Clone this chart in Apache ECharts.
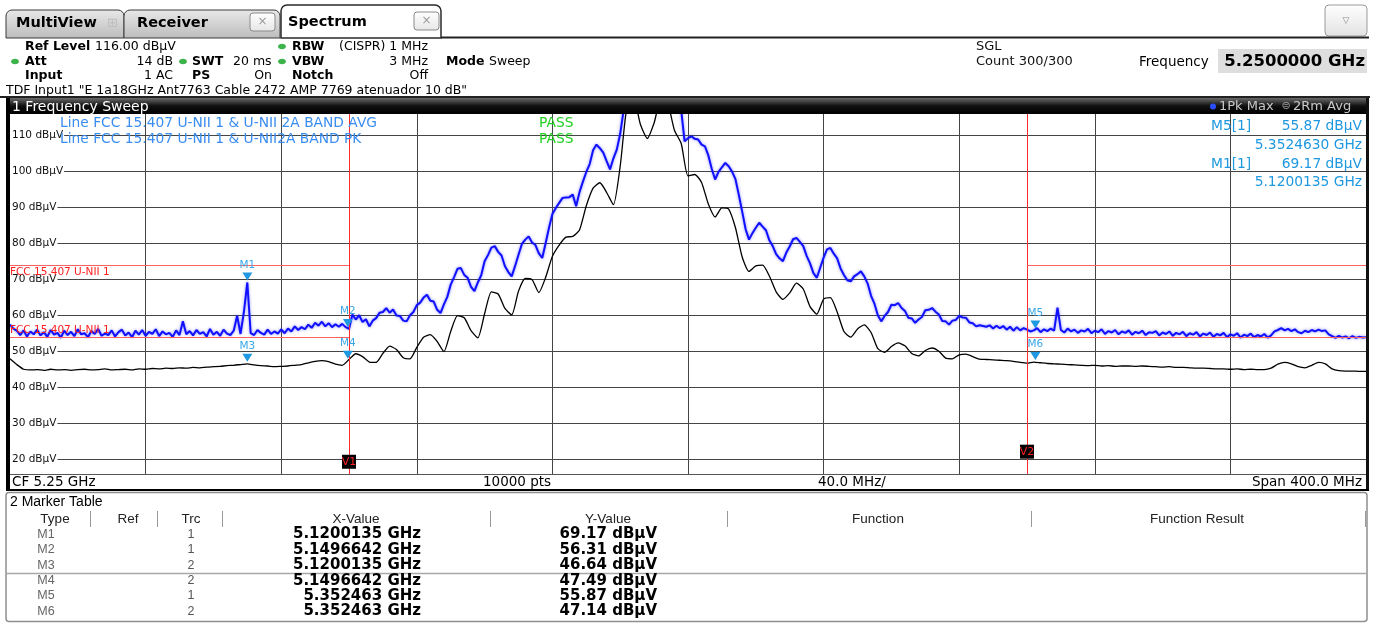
<!DOCTYPE html>
<html lang="en">
<head>
<meta charset="UTF-8">
<title>Spectrum</title>
<script src="https://cdn.jsdelivr.net/npm/echarts@6/dist/echarts.min.js"></script>
<style>
  html, body { margin: 0; padding: 0; background: #fff; }
  #main { width: 1381px; height: 624px; }
</style>
</head>
<body>
<div id="main"></div>
<script>
// ---- data (dBuV) ----
const startMHz = 5050;
const pkStepMHz = 1;
const avgStepMHz = 2;

// trace 1: 1Pk Max, one value per MHz from 5050 MHz
const pkMax = [
  57.5, 56.4, 55.8, 54.6, 55.9, 54.2, 55.6, 54.8, 56.1, 54.5,
  55.4, 54.1, 56.0, 54.7, 55.2, 53.9, 55.8, 54.6, 55.5, 54.3,
  56.2, 54.8, 55.1, 54.0, 55.7, 54.9, 56.3, 54.4, 55.0, 54.6,
  55.9, 54.2, 55.4, 56.1, 54.5, 55.3, 54.0, 55.8, 54.7, 56.0,
  54.4, 55.5, 54.9, 56.2, 54.3, 55.6, 54.8, 55.2, 54.1, 55.9,
  54.6, 58.4, 54.8, 55.7, 54.5, 56.0, 54.9, 55.4, 54.2, 56.3,
  54.7, 55.5, 54.4, 56.1, 55.0, 54.6, 55.8, 60.0, 54.9, 61.0,
  69.2, 55.1, 54.6, 56.0, 55.2, 54.7, 56.1, 54.9, 55.6, 55.0,
  56.2, 55.1, 56.4, 55.6, 57.0, 56.0, 56.8, 56.2, 57.5, 56.6,
  58.0, 57.2, 58.3, 57.0, 57.9, 56.8, 57.6, 56.9, 57.7, 56.8,
  56.3, 60.3, 58.9, 60.1, 58.2, 59.0, 57.0, 58.6, 59.3, 60.8,
  61.0, 62.1, 60.8, 61.7, 60.0, 59.9, 58.6, 58.4, 60.1, 61.0,
  62.9, 63.6, 65.0, 65.8, 64.1, 63.9, 61.6, 60.7, 63.1, 65.2,
  68.6, 70.7, 73.0, 73.2, 71.3, 70.5, 68.0, 66.8, 69.2, 71.2,
  75.1, 76.8, 78.9, 79.3, 77.7, 76.7, 73.7, 72.1, 70.9, 73.8,
  76.9, 79.9, 81.1, 82.0, 80.3, 79.6, 77.3, 76.0, 80.1, 84.4,
  88.2, 89.9, 91.3, 92.7, 92.8, 92.9, 93.6, 90.4, 94.3, 97.2,
  99.9, 102.1, 105.9, 107.5, 106.5, 105.3, 102.9, 100.6, 103.7, 106.1,
  110.5, 117, 119, 120, 121, 121, 120, 120, 121, 122,
  122, 121, 121, 120, 120, 119, 119, 118, 117, 108.4,
  109.3, 109.8, 109.1, 108.9, 107.5, 107.0, 104.5, 100.8, 97.8, 99.9,
  101.2, 102.4, 101.5, 100.0, 97.9, 93.5, 88.8, 84.0, 81.1, 82.9,
  84.4, 85.8, 84.7, 83.7, 80.9, 79.3, 77.1, 75.9, 75.1, 77.5,
  79.2, 81.2, 81.6, 80.5, 79.3, 76.6, 74.5, 71.8, 70.5, 73.3,
  76.1, 78.4, 78.8, 77.2, 75.9, 73.1, 71.3, 69.8, 69.5, 70.9,
  71.5, 72.3, 70.9, 68.9, 65.5, 63.3, 60.1, 58.4, 59.9, 61.0,
  63.0, 62.9, 63.5, 62.1, 61.3, 59.4, 59.2, 58.0, 58.9, 59.6,
  61.5, 61.6, 62.1, 61.1, 60.3, 58.5, 58.4, 57.5, 58.6, 58.8,
  59.9, 59.5, 59.4, 58.1, 57.9, 57.0, 57.3, 57.1, 56.9, 57.3,
  56.4, 57.2, 56.5, 57.1, 56.1, 56.9, 55.8, 56.8, 55.9, 56.5,
  56.1, 55.6, 55.9, 56.5, 55.4, 56.2, 55.7, 56.4, 55.8, 62.2,
  56.0, 55.3, 56.4, 55.6, 56.1, 55.2, 55.9, 55.6, 56.3, 55.1,
  55.8, 55.4, 56.2, 54.9, 55.7, 55.3, 56.0, 54.8, 55.6, 55.2,
  55.9, 54.7, 55.5, 55.1, 55.8, 54.6, 55.4, 55.2, 55.7, 54.5,
  55.3, 54.9, 55.6, 54.4, 55.2, 54.8, 55.5, 54.3, 55.1, 54.7,
  55.4, 54.2, 55.0, 54.6, 55.3, 54.1, 54.9, 54.5, 55.2, 54.0,
  54.8, 54.4, 55.1, 53.9, 54.7, 54.3, 55.0, 54.0, 54.6, 54.2,
  54.9, 53.9, 54.5, 55.6, 56.0, 56.5, 55.9, 56.3, 55.7, 56.2,
  55.4, 55.1, 55.8, 55.4, 56.0, 55.6, 56.1, 55.7, 55.9, 54.8,
  54.3, 53.8, 54.4, 53.9, 54.2, 53.7, 54.3, 53.8, 54.1, 53.9,
  54.0
];

// trace 2: 2Rm Avg, one value every 2 MHz from 5050 MHz
const rmAvg = [
  48.0, 46.4, 45.1, 44.9, 45.0, 44.8, 45.1, 44.9, 45.0, 44.8,
  45.0, 45.1, 44.9, 45.0, 45.2, 44.9, 45.0, 45.1, 44.9, 45.2,
  45.1, 45.3, 45.2, 45.4, 45.3, 45.5, 45.4, 45.6, 45.5, 45.7,
  45.8, 45.9, 46.1, 46.2, 46.4, 46.6, 46.3, 46.1, 46.0, 45.8,
  45.9, 46.0, 46.2, 46.4, 46.9, 47.3, 47.5, 47.2, 46.5, 46.2,
  47.8, 49.4, 48.6, 47.1, 47.0, 49.5, 51.5, 50.6, 48.3, 48.0,
  51.2, 54.0, 54.7, 52.8, 50.0, 55.6, 60.0, 59.4, 55.8, 53.8,
  60.5, 66.6, 66.0, 62.0, 60.2, 66.8, 70.3, 70.0, 66.4, 70.6,
  76.5, 79.6, 81.8, 82.0, 83.8, 90.5, 95.4, 96.9, 94.2, 90.8,
  101.5, 118, 120, 113, 109.2, 113.5, 120, 119, 111.5, 107.8,
  98.8, 99.2, 97.0, 91.0, 87.4, 89.9, 89.6, 84.4, 76.2, 72.3,
  73.8, 74.0, 71.0, 66.6, 64.5, 66.3, 69.0, 67.4, 62.5, 60.4,
  64.6, 65.0, 61.0, 55.6, 54.0, 56.3, 57.4, 55.3, 50.8, 49.8,
  51.4, 52.4, 51.6, 49.5, 48.8, 50.3, 51.0, 50.1, 48.2, 48.0,
  49.1, 49.3, 48.6, 47.9, 47.8, 47.7, 47.6, 47.5, 47.3, 47.0,
  46.8, 47.1, 46.9, 46.7, 46.6, 46.5, 46.4, 46.3, 46.2, 46.1,
  46.2, 46.0, 46.1, 45.9, 46.0, 46.0, 45.9, 46.0, 45.9, 45.8,
  45.7, 45.8, 45.6, 45.6, 45.5, 45.4, 45.4, 45.3, 45.2, 45.2,
  45.1, 45.2, 45.0, 45.1, 45.0, 45.0, 45.4, 46.5, 47.0, 46.6,
  45.8, 45.5, 46.2, 47.0, 46.6, 45.2, 44.7, 44.6, 44.6, 44.5,
  44.5
];

const gridMHz = [5090, 5130, 5170, 5210, 5250, 5290, 5330, 5370, 5410];
const levelTicks = [20, 30, 40, 50, 60, 70, 80, 90, 100, 110];
const bandEdgesMHz = [5150, 5350];
const limitPk = 74;
const limitAvg = 54;
const vBoxDb = [19.4, 22.2];

const markerNames = ['M1', 'M2', 'M3', 'M4', 'M5', 'M6'];
const markerTrc = [1, 1, 2, 2, 1, 2];
const markerMHz = [5120.0135, 5149.6642, 5120.0135, 5149.6642, 5352.463, 5352.463];
const markerDb = [69.17, 56.31, 46.64, 47.49, 55.87, 47.14];
const markerXText = ['5.1200135 GHz', '5.1496642 GHz', '5.1200135 GHz', '5.1496642 GHz', '5.352463 GHz', '5.352463 GHz'];
const markerYText = ['69.17 dBµV', '56.31 dBµV', '46.64 dBµV', '47.49 dBµV', '55.87 dBµV', '47.14 dBµV'];

// ---- helpers for the instrument chrome ----
const F = '"DejaVu Sans", Verdana, sans-serif';
const FL = '"Liberation Sans", Arial, sans-serif';
const els = [];
function T(x, y, s, size, o) {
  o = o || {};
  els.push({
    type: 'text', x: x, y: y, z: 100, silent: true,
    style: {
      text: s, fill: o.color || '#000',
      font: (o.bold ? 'bold ' : '') + size + 'px ' + (o.family || F),
      align: o.align || 'left', verticalAlign: 'middle'
    }
  });
}
function R(x, y, w, h, fill, stroke, lw, r) {
  els.push({
    type: 'rect', z: 90, silent: true,
    shape: { x: x, y: y, width: w, height: h, r: r || 0 },
    style: { fill: fill || 'none', stroke: stroke || null, lineWidth: lw || 1 }
  });
}
function L(x1, y1, x2, y2, stroke, lw) {
  els.push({
    type: 'line', z: 95, silent: true,
    shape: { x1: x1, y1: y1, x2: x2, y2: y2 },
    style: { stroke: stroke, lineWidth: lw || 1 }
  });
}
function grad(stops) {
  return new echarts.graphic.LinearGradient(0, 0, 0, 1, stops.map((c, i) => ({ offset: i / (stops.length - 1), color: c })));
}
function dot(cx, cy, color) {
  els.push({ type: 'ellipse', z: 100, silent: true, shape: { cx: cx, cy: cy, rx: 4, ry: 2.8 }, style: { fill: color } });
}

// tabs
R(6, 10, 118, 28, grad(['#e8e8e8', '#bcbcbc']), '#3a3a3a', 1, [6, 6, 0, 0]);
T(16, 23.5, 'MultiView', 14.5, { bold: true });
T(107, 23.5, '⊞', 13, { color: '#bdbdbd' });
R(124, 10, 156, 28, grad(['#e8e8e8', '#bcbcbc']), '#3a3a3a', 1, [6, 6, 0, 0]);
T(137, 23.5, 'Receiver', 14.5, { bold: true });
R(250, 13, 25, 18, grad(['#ffffff', '#e6e6e6']), '#8a8a8a', 1, 3);
T(262.5, 22, '×', 12, { color: '#9a9a9a', align: 'center' });
R(281, 5, 160, 33, '#fff', '#2a2a2a', 1.5, [6, 6, 0, 0]);
T(288, 22, 'Spectrum', 14.5, { bold: true });
R(414, 12, 25, 18, grad(['#ffffff', '#e6e6e6']), '#8a8a8a', 1, 3);
T(426.5, 21, '×', 12, { color: '#9a9a9a', align: 'center' });
L(441, 37.5, 1369, 37.5, '#222', 2);
R(1325, 5, 42, 31, grad(['#ffffff', '#e2e2e2']), '#9a9a9a', 1, 4);
T(1346, 20.5, '▽', 9, { color: '#8a8a8a', align: 'center' });

// settings header
T(25, 46.5, 'Ref Level', 12.5, { bold: true });
T(95, 46.5, '116.00 dBµV', 12.5);
dot(282, 46.5, '#3cb44b');
T(292, 46.5, 'RBW', 12.5, { bold: true });
T(428, 46.5, '(CISPR) 1 MHz', 12.5, { align: 'right' });
dot(15, 61.5, '#3cb44b');
T(25, 61.5, 'Att', 12.5, { bold: true });
T(173, 61.5, '14 dB', 12.5, { align: 'right' });
dot(183, 61.5, '#3cb44b');
T(192, 61.5, 'SWT', 12.5, { bold: true });
T(233, 61.5, '20 ms', 12.5);
dot(282, 61.5, '#3cb44b');
T(292, 61.5, 'VBW', 12.5, { bold: true });
T(428, 61.5, '3 MHz', 12.5, { align: 'right' });
T(446, 61.5, 'Mode', 12.5, { bold: true });
T(489, 61.5, 'Sweep', 12.5);
T(25, 76, 'Input', 12.5, { bold: true });
T(173, 76, '1 AC', 12.5, { align: 'right' });
T(192, 76, 'PS', 12.5, { bold: true });
T(272, 76, 'On', 12.5, { align: 'right' });
T(292, 76, 'Notch', 12.5, { bold: true });
T(428, 76, 'Off', 12.5, { align: 'right' });
T(6, 90.5, 'TDF Input1 "E 1a18GHz Ant7763 Cable 2472 AMP 7769 atenuador 10 dB"', 12.5);
T(976, 46.5, 'SGL', 13, { color: '#111' });
T(976, 62, 'Count 300/300', 13, { color: '#111' });
T(1139, 62, 'Frequency', 13.5);
R(1218, 49, 149, 24, '#dedede');
T(1365, 61.5, '5.2500000 GHz', 16.5, { bold: true, align: 'right' });
R(0, 96, 1370, 2, '#222');

// window frame and title bar
R(6, 98, 1363, 16, grad(['#6a6a6a', '#101010', '#000000']));
T(12, 107, '1 Frequency Sweep', 14, { color: '#fff' });
els.push({ type: 'circle', z: 100, silent: true, shape: { cx: 1213, cy: 106.5, r: 3 }, style: { fill: '#2a4cff' } });
T(1219, 106.5, '1Pk Max', 13, { color: '#c8c8c8' });
T(1286, 106.5, '⊜', 11, { color: '#a0a0a0', align: 'center' });
T(1293, 106.5, '2Rm Avg', 13, { color: '#c8c8c8' });
R(6, 98, 4, 393, '#000');
R(1366, 98, 3, 393, '#111');
L(10, 474.5, 1366, 474.5, '#555', 1);
R(6, 489, 1363, 2, '#000');
T(12, 482, 'CF 5.25 GHz', 13.5);
T(483, 482, '10000 pts', 13.5);
T(818, 482, '40.0 MHz/', 13.5);
T(1362, 482, 'Span 400.0 MHz', 13.5, { align: 'right' });

// texts inside the diagram
T(60, 123.5, 'Line FCC 15.407 U-NII 1 & U-NII 2A BAND AVG', 13.8, { color: '#3a8df0' });
T(60, 139.5, 'Line FCC 15.407 U-NII 1 & U-NII2A BAND PK', 13.8, { color: '#3a8df0' });
T(539, 123.5, 'PASS', 13.8, { color: '#22d022' });
T(539, 139.5, 'PASS', 13.8, { color: '#22d022' });
const mColor = '#1e98e0';
T(1211, 126.5, 'M5[1]', 13.8, { color: mColor });
T(1362, 126.5, markerYText[4], 13.8, { color: mColor, align: 'right' });
T(1362, 145, '5.3524630 GHz', 13.8, { color: mColor, align: 'right' });
T(1211, 164, 'M1[1]', 13.8, { color: mColor });
T(1362, 164, markerYText[0], 13.8, { color: mColor, align: 'right' });
T(1362, 182.5, '5.1200135 GHz', 13.8, { color: mColor, align: 'right' });

// marker table
R(6, 492.5, 1361, 129, '#fff', '#8f8f8f', 1.5, 3);
T(10, 502.5, '2 Marker Table', 14, { family: FL });
const colHead = [['Type', 55], ['Ref', 128], ['Trc', 191], ['X-Value', 356], ['Y-Value', 608], ['Function', 878], ['Function Result', 1197]];
colHead.forEach(c => T(c[1], 519, c[0], 13.5, { family: FL, align: 'center', color: '#222' }));
[90, 157, 222, 490, 727, 1031, 1365].forEach(x => L(x + 0.5, 511, x + 0.5, 527, '#9a9a9a', 1));
L(6, 573.5, 1367, 573.5, '#a8a8a8', 1.5);
const rowY = [534.5, 550, 565.5, 581, 596, 611.5];
markerNames.forEach((n, i) => {
  T(46, rowY[i], n, 12.5, { family: FL, color: '#666', align: 'center' });
  T(191, rowY[i], String(markerTrc[i]), 12.5, { family: FL, color: '#555', align: 'center' });
  T(421, rowY[i], markerXText[i], 15, { bold: true, align: 'right' });
  T(657, rowY[i], markerYText[i], 15, { bold: true, align: 'right' });
});

// ---- series ----
const pkData = pkMax.map((v, i) => [startMHz + i * pkStepMHz, v]);
const avgData = rmAvg.map((v, i) => [startMHz + i * avgStepMHz, v]);

function markerPoints(trc) {
  const out = [];
  markerNames.forEach((n, i) => {
    if (markerTrc[i] === trc) out.push({ name: n, coord: [markerMHz[i], markerDb[i]] });
  });
  return out;
}
const markerStyle = {
  symbol: 'path://M0 0L10 0L5 8Z',
  symbolSize: [10, 8],
  symbolOffset: [0, -6],
  silent: true,
  animation: false,
  itemStyle: { color: '#1e98e0' },
  label: { show: true, position: 'top', distance: 2, formatter: '{b}', color: '#3aa6e6', fontSize: 10.5, fontFamily: F }
};

const red = '#ff2a2a';
const redLight = '#ff6060';
const limitLabel = { show: true, formatter: 'FCC 15.407 U-NII 1', color: '#ff2020', fontSize: 10.5, fontFamily: F };

const myChart = echarts.init(document.getElementById('main'), null, { renderer: 'canvas' });
const option = {
  animation: false,
  backgroundColor: '#fff',
  grid: { left: 10, top: 114, width: 1356, height: 360, outerBoundsMode: 'none', containLabel: false },
  xAxis: {
    type: 'value', min: startMHz, max: 5450,
    axisLine: { show: false },
    axisTick: { show: false, customValues: gridMHz },
    axisLabel: { show: false, customValues: gridMHz },
    splitLine: { show: true, lineStyle: { color: '#454545', width: 1 } }
  },
  yAxis: {
    type: 'value', min: 16, max: 116,
    axisLine: { show: false },
    axisTick: { show: false, customValues: levelTicks },
    axisLabel: {
      inside: true, margin: 0, customValues: levelTicks,
      formatter: v => v + ' dBµV',
      color: '#111', fontSize: 10.5, fontFamily: F,
      backgroundColor: '#fff', padding: [1, 1, 1, 2]
    },
    splitLine: { show: true, lineStyle: { color: '#454545', width: 1 } }
  },
  series: [
    {
      name: '1Pk Max', type: 'line', data: pkData, z: 2,
      showSymbol: false, symbol: 'none', clip: true,
      lineStyle: { color: '#1010ff', width: 2, shadowColor: 'rgba(40,40,255,0.55)', shadowBlur: 3 },
      markPoint: Object.assign({ data: markerPoints(1) }, markerStyle)
    },
    {
      name: '2Rm Avg', type: 'line', data: avgData, z: 3,
      showSymbol: false, symbol: 'none', clip: true, smooth: 0.2,
      lineStyle: { color: '#000', width: 1.3 },
      markPoint: Object.assign({ data: markerPoints(2) }, markerStyle)
    },
    {
      name: 'limits', type: 'line', data: [], z: 4,
      markLine: {
        silent: true, animation: false, symbol: ['none', 'none'],
        label: { show: false },
        lineStyle: { color: redLight, width: 1, type: 'solid' },
        data: [
          { xAxis: bandEdgesMHz[0], lineStyle: { color: red, width: 1, type: 'solid' } },
          { xAxis: bandEdgesMHz[1], lineStyle: { color: red, width: 1, type: 'solid' } },
          [{ coord: [startMHz, limitPk], label: Object.assign({ position: 'insideStartBottom', distance: [0, 2] }, limitLabel) }, { coord: [bandEdgesMHz[0], limitPk] }],
          [{ coord: [bandEdgesMHz[1], limitPk] }, { coord: [5450, limitPk] }],
          [{ coord: [startMHz, limitAvg], label: Object.assign({ position: 'insideStartTop', distance: [0, 1] }, limitLabel) }, { coord: [bandEdgesMHz[0], limitAvg] }],
          [{ coord: [bandEdgesMHz[1], limitAvg] }, { coord: [5450, limitAvg] }]
        ]
      },
      markPoint: {
        silent: true, animation: false,
        symbol: 'rect', symbolSize: 14,
        itemStyle: { color: '#000' },
        label: { show: true, position: 'inside', formatter: '{b}', color: '#ff2020', fontSize: 11, fontFamily: F },
        data: [
          { name: 'V1', coord: [bandEdgesMHz[0], vBoxDb[0]] },
          { name: 'V2', coord: [bandEdgesMHz[1], vBoxDb[1]] }
        ]
      }
    }
  ],
  graphic: { elements: els }
};
myChart.setOption(option);
</script>
</body>
</html>
